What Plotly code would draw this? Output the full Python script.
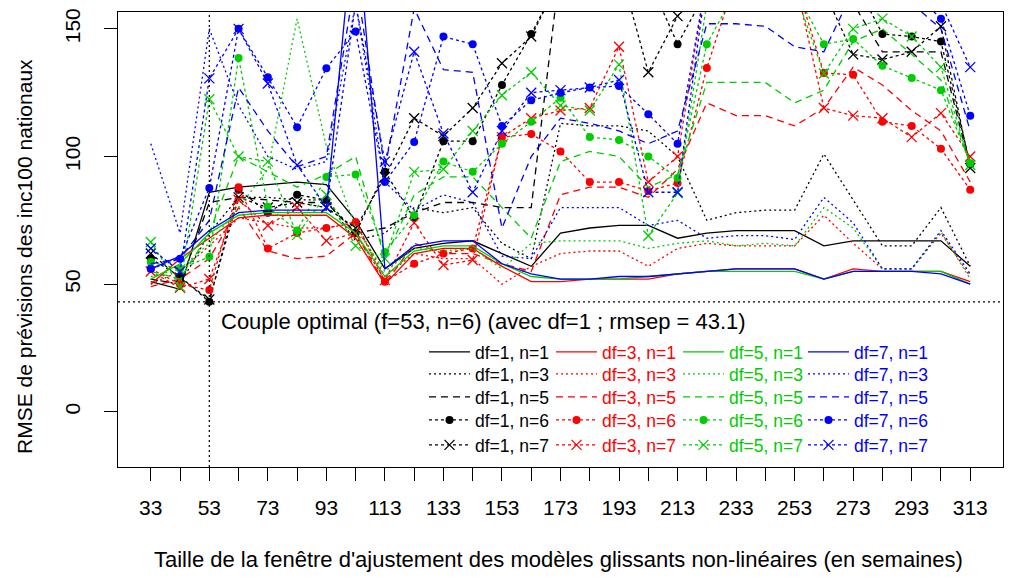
import plotly.graph_objects as go

# Window sizes (weeks) and axis tick labels
window = [33, 43, 53, 63, 73, 83, 93, 103, 113, 123, 133, 143, 153, 163, 173,
          183, 193, 203, 213, 223, 233, 243, 253, 263, 273, 283, 293, 303, 313]
x_ticklabels = ["33", "", "53", "", "73", "", "93", "", "113", "", "133", "", "153", "",
                "173", "", "193", "", "213", "", "233", "", "253", "", "273", "", "293",
                "", "313"]
y_ticks = [0, 50, 100, 150]

# RMSE by df (spline degrees of freedom) and n (horizon)
df1_n1 = [51, 48, 86, 88, 89, 90, 89, 75, 56, 64, 66, 67, 62, 57, 70, 72, 73, 73, 68, 70, 71, 71, 71, 65, 67, 67, 67, 67, 57]
df1_n3 = [52, 50, 70, 84, 84, 83, 83, 67, 70, 80, 78, 80, 66, 60, 113, 112, 112, 110, 100, 75, 78, 79, 79, 101, 83, 65, 65, 80, 57]
df1_n5 = [52, 50, 82, 84, 83, 82, 82, 70, 72, 78, 82, 82, 80, 80, 175, 180, 180, 180, 175, 175, 175, 175, 175, 170, 160, 141, 141, 141, 96]
df1_n6 = [60, 53, 43.1, 87, 78, 85, 83, 70, 94, 76, 106, 106, 128, 148, 170, 175, 180, 170, 144, 165, 170, 170, 170, 170, 170, 148, 147, 145, 97]
df1_n7 = [62, 52.5, 44, 84, 80, 82, 80, 72, 92, 115, 108, 119, 136.5, 147, 170, 175, 175, 133, 155, 170, 170, 170, 170, 165, 140, 138, 141, 151, 95.5]

df3_n1 = [50, 60, 68, 76, 77, 77, 77, 68, 50, 62, 64, 64, 57, 51, 51, 52, 52, 52, 54, 55, 56, 56, 56, 52, 56, 55, 55, 55, 51]
df3_n3 = [50, 55, 65, 76, 74, 72, 72, 74, 53, 62, 60, 60, 50, 57, 62, 63, 63, 57, 64, 66, 65, 65, 65, 77, 66, 56, 56, 70, 53]
df3_n5 = [49, 52, 60, 80, 63, 60, 61, 70, 50, 66, 62, 62, 58, 55, 85, 88, 88, 84, 95, 121, 116, 116, 112, 119, 135, 128, 118, 110, 90]
df3_n6 = [56, 50, 47.7, 88, 64, 70, 72, 74.4, 51, 58, 62, 64, 107.6, 108.8, 102, 90, 90, 86.5, 89.6, 134.7, 170, 170, 170, 132.7, 132, 113.6, 112, 103, 87]
df3_n7 = [55, 48.6, 52, 83, 73, 80, 67, 70, 51.6, 74, 57.5, 59.5, 107.6, 115, 118, 119, 143, 90, 100, 170, 170, 170, 170, 119, 116, 115, 107.6, 117, 100]

df5_n1 = [52, 58, 70, 77, 78, 78, 78, 70, 53, 63, 65, 65, 58, 53, 52, 52, 52, 53, 54, 55, 55, 55, 55, 52, 55, 55, 55, 55, 50]
df5_n3 = [53, 56, 66, 80, 95, 154, 104, 72, 55, 64, 63, 64, 56, 66, 67, 67, 67, 64, 66, 67, 65, 66, 65, 80, 72, 56, 56, 70.5, 52]
df5_n5 = [55, 52, 70, 100, 94, 88, 93, 100, 60, 85, 92, 92, 80, 68, 98, 102, 100, 88, 93, 129, 129, 129, 121, 126, 145, 150, 140, 130, 97]
df5_n6 = [58.7, 56, 60.7, 138.6, 80.3, 71, 92, 93, 62.6, 77, 98, 94, 105, 113.6, 123, 107.6, 106.5, 100, 91.6, 144, 165, 165, 165, 144, 146, 135.5, 130.8, 126, 97.4]
df5_n7 = [66.5, 49, 122.4, 100, 98, 69.3, 85, 65, 60, 94, 95, 110, 124, 133, 120, 118, 136, 69, 85.7, 160, 165, 165, 165, 132.5, 150, 154, 147, 135, 96.7]

df7_n1 = [56, 61, 71, 78, 79, 79, 79, 200, 56, 65, 67, 67, 58, 54, 52, 52, 53, 53, 54, 55, 56, 56, 56, 52, 55, 55, 55, 54, 50]
df7_n3 = [105, 70, 150, 120, 100, 95, 98, 160, 90, 79, 85, 82, 61, 60, 80, 80, 80, 73, 75, 68, 69, 69, 67.5, 84, 74, 56, 56, 71, 54]
df7_n5 = [58, 60, 75, 127, 110, 96, 100, 170, 95, 158, 134, 133, 72, 100, 115, 113, 110, 105, 110, 152, 152, 151, 143, 141, 165, 165, 160, 150, 110]
df7_n6 = [56, 60, 87.7, 150, 131, 111.5, 134.6, 149, 90, 105.7, 147, 144, 112, 122, 125, 127, 127.6, 116.6, 105, 170, 175, 175, 170, 165, 170, 170, 165, 154, 116]
df7_n7 = [64, 55, 130.6, 150, 128.6, 96.7, 80, 160, 98, 141, 109, 86, 110, 125, 126, 127, 130, 86, 86, 170, 175, 175, 170, 160, 165, 165, 160, 160, 135]

best_f, best_rmsep = 53, 43.1

series = {
    (1, 1): df1_n1, (1, 3): df1_n3, (1, 5): df1_n5, (1, 6): df1_n6, (1, 7): df1_n7,
    (3, 1): df3_n1, (3, 3): df3_n3, (3, 5): df3_n5, (3, 6): df3_n6, (3, 7): df3_n7,
    (5, 1): df5_n1, (5, 3): df5_n3, (5, 5): df5_n5, (5, 6): df5_n6, (5, 7): df5_n7,
    (7, 1): df7_n1, (7, 3): df7_n3, (7, 5): df7_n5, (7, 6): df7_n6, (7, 7): df7_n7,
}

dfs = [1, 3, 5, 7]
ns = [1, 3, 5, 6, 7]
colors = {1: "#000000", 3: "#FF0000", 5: "#00CD00", 7: "#0000FF"}
dash = {1: "solid", 3: "2px,3px", 5: "7px,5px", 6: "3px,3px", 7: "3px,3px"}
FONT = "Liberation Sans, Arial, sans-serif"

# plot area in pixels
L, R, T, B = 118, 6, 12, 110
W, H = 1009, 577
pw, ph = W - L - R, H - T - B

# legend grid (pixel positions)
col_left = {1: 424, 3: 551, 5: 678, 7: 803}
row_mid = {1: 352, 3: 374, 5: 397, 6: 420, 7: 445}

fig = go.Figure()
layout_legends = {}
k = 0
for d in dfs:
    for n in ns:
        k += 1
        lname = "legend" if k == 1 else f"legend{k}"
        mode = "lines+markers" if n in (6, 7) else "lines"
        marker = None
        if n == 6:
            marker = dict(symbol="circle", size=8, color=colors[d])
        elif n == 7:
            marker = dict(symbol="x-thin-open", size=10, color=colors[d],
                          line=dict(width=1.3, color=colors[d]))
        fig.add_trace(go.Scatter(
            x=window, y=series[(d, n)], mode=mode,
            name=f"df={d}, n={n}",
            line=dict(color=colors[d], width=1.3, dash=dash[n]),
            marker=marker, legend=lname, showlegend=True,
        ))
        layout_legends[lname] = dict(
            x=(col_left[d] - L) / pw, y=(H - B - row_mid[n]) / ph,
            xanchor="left", yanchor="middle",
            bgcolor="rgba(0,0,0,0)", borderwidth=0, itemwidth=41,
            font=dict(family=FONT, size=17.5, color=colors[d]),
        )

fig.update_layout(
    width=W, height=H,
    margin=dict(l=L, r=R, t=T, b=B),
    paper_bgcolor="white", plot_bgcolor="white",
    font=dict(family=FONT, size=21, color="#000000"),
    **layout_legends,
    xaxis=dict(
        range=[21.8, 324.2], tickvals=window, ticktext=x_ticklabels,
        ticks="outside", ticklen=13, tickwidth=1, tickcolor="#000000",
        showline=True, linecolor="#000000", linewidth=1, mirror=True,
        showgrid=False, zeroline=False, ticklabelstandoff=9,
        tickfont=dict(family=FONT, size=21, color="#000000"),
    ),
    yaxis=dict(
        range=[-21.6, 156.6], tickvals=y_ticks,
        ticks="outside", ticklen=13, tickwidth=1, tickcolor="#000000",
        showline=True, linecolor="#000000", linewidth=1, mirror=True,
        showgrid=False, zeroline=False, tickangle=-90, ticklabelstandoff=16,
        tickfont=dict(family=FONT, size=21, color="#000000"),
    ),
    shapes=[
        dict(type="line", xref="x", yref="paper", x0=best_f, x1=best_f, y0=0, y1=1,
             line=dict(color="#000000", width=1.2, dash="2px,3px")),
        dict(type="line", xref="paper", yref="y", x0=0, x1=1, y0=best_rmsep, y1=best_rmsep,
             line=dict(color="#000000", width=1.2, dash="2px,3px")),
    ],
    annotations=[
        dict(text=f"Couple optimal (f={best_f}, n=6) (avec df=1 ; rmsep = {best_rmsep})",
             xref="x", yref="y", x=best_f, y=best_rmsep, xanchor="left", yanchor="top",
             xshift=10, yshift=-5, showarrow=False,
             font=dict(family=FONT, size=22, color="#000000")),
        dict(text="RMSE de prévisions des inc100 nationaux", xref="paper", yref="paper",
             x=(24 - L) / pw, y=(H - B - 257) / ph, xanchor="center", yanchor="middle",
             textangle=-90, showarrow=False,
             font=dict(family=FONT, size=21, color="#000000")),
        dict(text="Taille de la fenêtre d'ajustement des modèles glissants non-linéaires (en semaines)",
             xref="paper", yref="paper", x=(558 - L) / pw, y=(H - B - 559) / ph,
             xanchor="center", yanchor="middle", showarrow=False,
             font=dict(family=FONT, size=22, color="#000000")),
    ],
)

fig.write_html("out.html")
